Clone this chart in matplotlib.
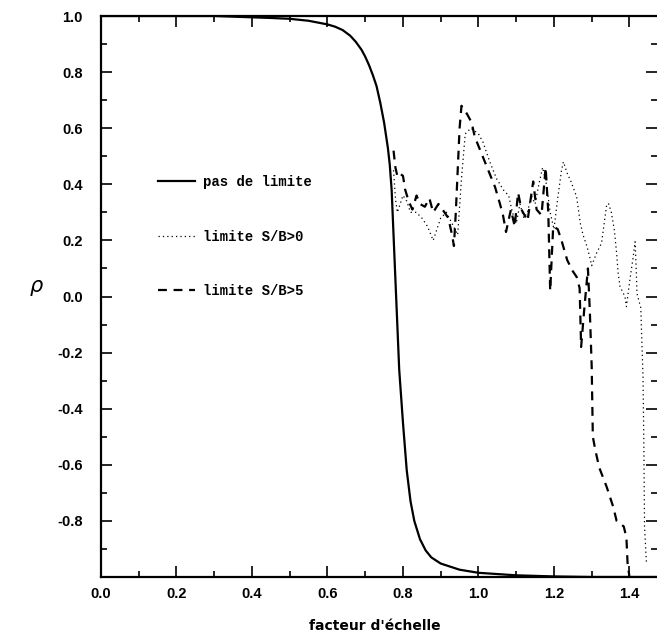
import numpy as np
import matplotlib
matplotlib.use('Agg')
import matplotlib.pyplot as plt
from matplotlib.lines import Line2D
from matplotlib.ticker import MultipleLocator

# courbe sans limite
x_sans = [0.0, 0.3, 0.45, 0.5, 0.55, 0.6, 0.62, 0.64, 0.66, 0.675, 0.69, 0.70,
          0.71, 0.72, 0.73, 0.74, 0.75, 0.76, 0.765, 0.77, 0.775, 0.78, 0.785,
          0.79, 0.80, 0.81, 0.82, 0.83, 0.845, 0.86, 0.875, 0.9, 0.95, 1.0, 1.1,
          1.2, 1.3, 1.47]
rho_sans = [1.0, 1.0, 0.993, 0.99, 0.983, 0.97, 0.962, 0.95, 0.93, 0.908, 0.88,
            0.855, 0.825, 0.79, 0.75, 0.69, 0.62, 0.53, 0.47, 0.38, 0.22, 0.06,
            -0.1, -0.26, -0.45, -0.62, -0.73, -0.80, -0.865, -0.905, -0.93, -0.952,
            -0.974, -0.985, -0.994, -0.998, -1.0, -1.0]

# limite S/B>0
x_sb0 = [0.775, 0.78, 0.785, 0.80, 0.81, 0.82, 0.835, 0.85, 0.865, 0.88, 0.89, 0.90,
         0.915, 0.93, 0.945, 0.955, 0.965, 0.98, 1.0, 1.012, 1.03, 1.048, 1.066,
         1.08, 1.09, 1.10, 1.11, 1.12, 1.13, 1.14, 1.15, 1.16, 1.17, 1.18, 1.19,
         1.20, 1.21, 1.22, 1.225, 1.235, 1.245, 1.26, 1.27, 1.277, 1.287, 1.295,
         1.30, 1.313, 1.326, 1.34, 1.345, 1.352, 1.36, 1.366, 1.37, 1.375, 1.388,
         1.392, 1.40, 1.41, 1.415, 1.418, 1.42, 1.43, 1.436, 1.438, 1.44, 1.445]
rho_sb0 = [0.45, 0.35, 0.30, 0.36, 0.34, 0.30, 0.30, 0.28, 0.25, 0.20, 0.24, 0.28,
           0.30, 0.26, 0.22, 0.42, 0.58, 0.60, 0.58, 0.55, 0.48, 0.42, 0.38,
           0.36, 0.30, 0.26, 0.33, 0.28, 0.30, 0.36, 0.33, 0.40, 0.46, 0.40, 0.30,
           0.24, 0.35, 0.45, 0.48, 0.44, 0.41, 0.356, 0.26, 0.22, 0.18, 0.14,
           0.11, 0.155, 0.19, 0.33, 0.33, 0.30, 0.237, 0.155, 0.084, 0.035, 0.0,
           -0.036, 0.048, 0.142, 0.195, 0.094, 0.01, -0.04, -0.29, -0.51, -0.82, -0.95]

# limite S/B>5
x_sb5 = [0.775, 0.78, 0.785, 0.79, 0.80, 0.806, 0.815, 0.825, 0.836, 0.845, 0.858,
         0.87, 0.88, 0.894, 0.91, 0.92, 0.93, 0.935, 0.94, 0.945, 0.95, 0.955,
         0.97, 0.982, 0.99, 1.008, 1.026, 1.044, 1.057, 1.065, 1.073, 1.086,
         1.096, 1.105, 1.114, 1.13, 1.145, 1.154, 1.167, 1.178, 1.185, 1.19,
         1.198, 1.21, 1.22, 1.235, 1.25, 1.26, 1.268, 1.272, 1.28, 1.29, 1.295,
         1.30, 1.303, 1.31, 1.32, 1.34, 1.357, 1.366, 1.385, 1.392, 1.395, 1.40]
rho_sb5 = [0.52, 0.46, 0.43, 0.44, 0.43, 0.38, 0.34, 0.31, 0.36, 0.33, 0.32,
           0.35, 0.30, 0.33, 0.30, 0.28, 0.22, 0.18, 0.30, 0.45, 0.60, 0.68,
           0.65, 0.62, 0.57, 0.51, 0.45, 0.39, 0.33, 0.29, 0.23, 0.31,
           0.25, 0.37, 0.31, 0.27, 0.41, 0.31, 0.29, 0.46, 0.30, 0.02,
           0.25, 0.24, 0.20, 0.13, 0.09, 0.07, 0.03, -0.18, -0.05, 0.10, -0.05,
           -0.25, -0.50, -0.55, -0.61, -0.68, -0.75, -0.80, -0.82, -0.86, -0.95, -1.0]

labels = ['pas de limite', 'limite S/B>0', 'limite S/B>5']

fig = plt.figure(figsize=(6.57, 6.38), dpi=100)
ax = fig.add_axes([101 / 657, 61 / 638, 556 / 657, 561 / 638])

ax.plot(x_sans, rho_sans, color='black', lw=1.6)
ax.plot(x_sb0, rho_sb0, color='black', lw=0.9, linestyle=(0, (1, 2.5)))
ax.plot(x_sb5, rho_sb5, color='black', lw=1.6, linestyle=(0, (4, 3)))

ax.set_xlim(0, 1.473)
ax.set_ylim(-1, 1)
ax.xaxis.set_minor_locator(MultipleLocator(0.1))
ax.yaxis.set_minor_locator(MultipleLocator(0.1))
xt = np.arange(0, 1.41, 0.2)
yt = np.arange(-0.8, 1.01, 0.2)
ax.set_xticks(xt)
ax.set_yticks(yt)
ax.set_xticklabels(['%.1f' % v for v in xt])
ax.set_yticklabels(['%.1f' % v if abs(v) > 1e-9 else '0.0' for v in yt])
ax.tick_params(which='both', direction='in', top=True, right=True, width=1.2)
ax.tick_params(which='major', length=8, labelsize=10.5, pad=7)
ax.tick_params(which='minor', length=4)
ax.tick_params(axis='y', pad=13)
for lab in ax.get_xticklabels() + ax.get_yticklabels():
    lab.set_fontweight('bold')
    lab.set_family('Liberation Sans')
for s in ['left', 'bottom', 'top']:
    ax.spines[s].set_linewidth(1.6)
ax.spines['right'].set_visible(False)

ax.set_xlabel("facteur d'échelle", fontsize=10, fontweight='bold', family='DejaVu Sans')
ax.xaxis.set_label_coords(0.493, -0.075)
ax.set_ylabel('ρ', fontsize=15, style='italic', rotation=0, family='DejaVu Sans')
ax.yaxis.set_label_coords(-0.117, 0.5)

handles = [Line2D([], [], color='black', lw=1.6),
           Line2D([], [], color='black', lw=0.9, linestyle=(0, (1, 2.5))),
           Line2D([], [], color='black', lw=1.6, linestyle=(0, (4, 3)))]
ax.legend(handles, labels, loc='upper left', bbox_to_anchor=(0.1025, 0.716),
          frameon=False, borderpad=0, borderaxespad=0, handlelength=2.65,
          handletextpad=0.6, labelspacing=2.9,
          prop={'family': 'Liberation Mono', 'weight': 'bold', 'size': 10})

fig.savefig('out.png', dpi=100)
